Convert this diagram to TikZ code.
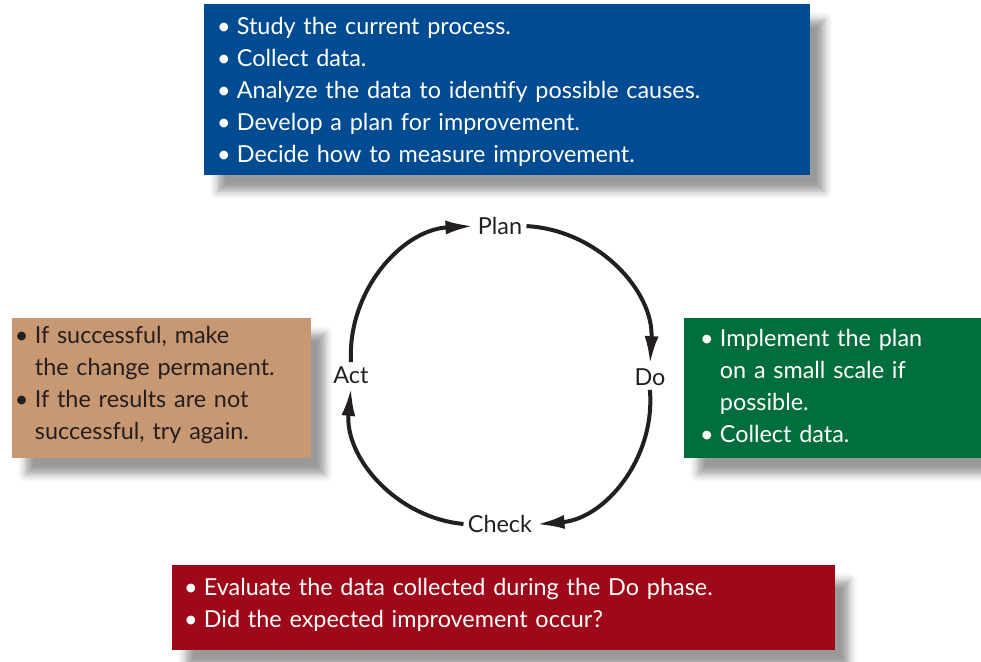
\documentclass[tikz,border=0pt]{standalone}
\usepackage{fontspec}
\setmainfont{Lato}
\usetikzlibrary{arrows.meta, shadows.blur}
\definecolor{planblue}{RGB}{0,75,145}
\definecolor{dogreen}{RGB}{0,110,60}
\definecolor{checkred}{RGB}{158,8,24}
\definecolor{acttan}{RGB}{200,152,114}
\definecolor{ink}{RGB}{35,31,32}
\tikzset{panel/.style={rectangle,align=left,inner ysep=0pt,font=\fontsize{11.7}{16}\selectfont,blur shadow={shadow xshift=7pt,shadow yshift=-8pt,shadow blur radius=4pt,shadow opacity=40}},phase/.style={inner sep=2pt,text=ink,font=\fontsize{11.7}{16}\selectfont},cycle/.style={draw=ink,line width=2pt,-{Latex[length=14pt,width=7pt]}}}
\newcommand{\bul}{\par\hangindent=0.85em\hangafter=1\noindent\makebox[0.85em][l]{\textbullet}}
% lifts the text block a little inside its box
\newcommand{\lift}[1]{\vspace*{-#1}}

\begin{document}
\begin{tikzpicture}[x=0.5pt,y=-0.5pt]
\useasboundingbox (0,0) rectangle (981,662);
% the four steps round the cycle
\node[phase] (plan) at (500,226) {Plan};
\node[phase] (do) at (650,377) {Do};
\node[phase] (check) at (500,524) {Check};
\node[phase] (act) at (351,375) {Act};
\draw[cycle] (plan) to[bend left=45] (do);
\draw[cycle] (do) to[bend left=45] (check);
\draw[cycle] (check) to[bend left=45] (act);
\draw[cycle] (act) to[bend left=45] (plan);
% what each step involves
\node[panel,fill=planblue,text=white,minimum width=303pt,minimum height=85.5pt,inner xsep=6.5pt,text width=290pt] (planbox) at (507,89.5) {\lift{5pt}\bul Study the current process.\bul Collect data.\bul Analyze the data to identify possible causes.\bul Develop a plan for improvement.\bul Decide how to measure improvement.\par};
\node[panel,fill=dogreen,text=white,minimum width=150.5pt,minimum height=70pt,inner xsep=8pt,text width=134.5pt] (dobox) at (834.5,388) {\lift{9pt}\bul Implement the plan\newline on a small scale if\newline possible.\bul Collect data.\par};
\node[panel,fill=checkred,text=white,minimum width=331.5pt,minimum height=42.5pt,inner xsep=6pt,text width=319.5pt] (checkbox) at (503.5,607.5) {\lift{10pt}\bul Evaluate the data collected during the Do phase.\bul Did the expected improvement occur?\par};
\node[panel,fill=acttan,text=ink,minimum width=149.5pt,minimum height=70pt,inner xsep=1.5pt,text width=146.5pt] (actbox) at (161.5,388) {\lift{10pt}\bul If successful, make\newline the change permanent.\bul If the results are not\newline successful, try again.\par};
\end{tikzpicture}
\end{document}
